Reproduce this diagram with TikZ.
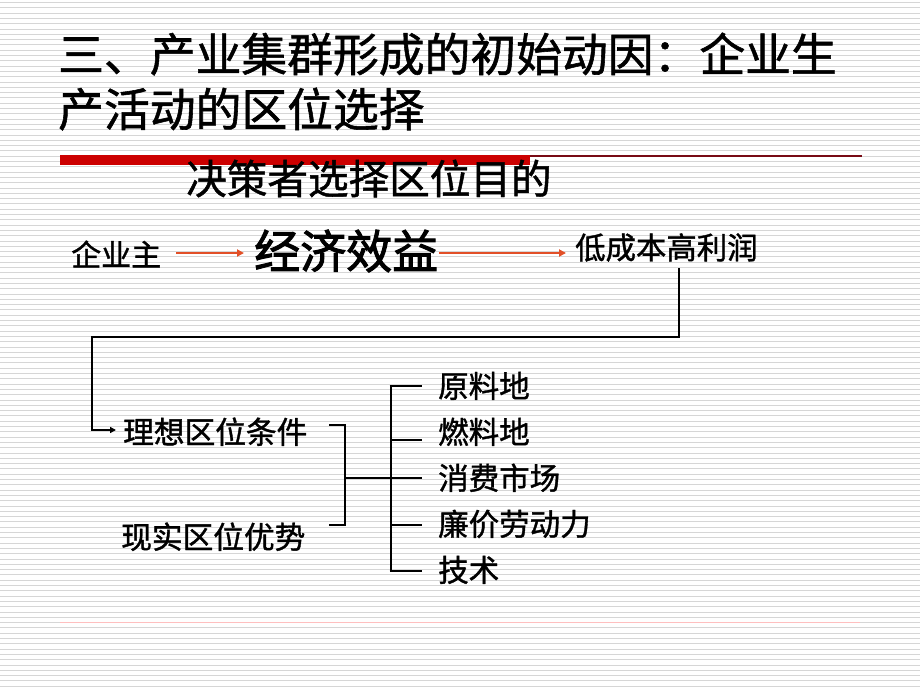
\documentclass[tikz,border=0pt]{standalone}
\usepackage{fontspec}
\newfontfamily\cjk[FakeBold=1.2]{Noto Sans CJK SC}
\newfontfamily\cjkb[FakeBold=2.2]{Noto Sans CJK SC}
\usetikzlibrary{arrows.meta}
\definecolor{stripe}{RGB}{214,214,214}
\definecolor{arrred}{RGB}{226,80,40}
\definecolor{barred}{RGB}{204,0,0}
\definecolor{thinred}{RGB}{120,10,20}
\tikzset{
  txt/.style={anchor=base west, inner sep=0pt, font=\cjk},
  conn/.style={line width=2.8pt, black},
  redarrow/.style={line width=2pt, arrred, -{Triangle[length=7pt,width=7pt]}},
}
\begin{document}
\begin{tikzpicture}[x=1pt,y=-1pt]
\useasboundingbox (0,0) rectangle (920,690);
\fill[white] (0,0) rectangle (920,690);
% background stripes
\foreach \i in {0,...,130} {
  \draw[stripe, line width=0.9pt] (0,{2.5+\i*5.3}) -- (920,{2.5+\i*5.3});
}
% title
\node[txt, font=\cjk\fontsize{45.8}{50}\selectfont] (t1) at (58,71.5) {三、产业集群形成的初始动因：企业生};
\node[txt, font=\cjk\fontsize{45.8}{50}\selectfont] (t2) at (58,126.5) {产活动的区位选择};
% rule
\coordinate (r0) at (60,156);
\coordinate (r1) at (862,156);
\coordinate (b0) at (60,160);
\coordinate (b1) at (530,160);
\draw[thinred, line width=1.5pt] (r0) -- (r1);
\draw[barred, line width=10pt] (b0) -- (b1);
\node[txt, font=\cjk\fontsize{40.6}{44}\selectfont] (goal) at (186,194) {决策者选择区位目的};
% top row
\node[txt, font=\cjk\fontsize{30}{34}\selectfont] (boss) at (71,266) {企业主};
\node[txt, font=\cjkb\fontsize{46}{50}\selectfont] (econ) at (254,268.5) {经济效益};
\node[txt, font=\cjk\fontsize{30.4}{34}\selectfont] (profit) at (575,259) {低成本高利润};
\coordinate (a1s) at (176,253);
\coordinate (a1e) at (244,253);
\coordinate (a2s) at (439,253);
\coordinate (a2e) at (566,253);
\draw[redarrow] (a1s) -- (a1e);
\draw[redarrow] (a2s) -- (a2e);
% elbow connector
\coordinate (p0) at (679,268);
\coordinate (p1) at (679,337);
\coordinate (p2) at (92,337);
\coordinate (p3) at (92,430);
\coordinate (p4) at (116,430);
\draw[conn, -{Triangle[length=6pt,width=6pt]}] (p0) -- (p1) -- (p2) -- (p3) -- (p4);
% left labels
\node[txt, font=\cjk\fontsize{30.7}{34}\selectfont] (ideal) at (123,443.5) {理想区位条件};
\node[txt, font=\cjk\fontsize{30.7}{34}\selectfont] (real) at (121,548.5) {现实区位优势};
% bracket
\coordinate (k0) at (329,425);
\coordinate (k1) at (345,425);
\coordinate (k2) at (345,525);
\coordinate (k3) at (329,525);
\coordinate (km) at (345,478);
\coordinate (sm) at (391,478);
\draw[conn] (k0) -- (k1) -- (k2) -- (k3);
\draw[conn] (km) -- (sm);
% spine
\coordinate (s0) at (391,386);
\coordinate (s4) at (391,571);
\draw[conn] (s0) -- (s4);
\foreach \y/\n in {386/fa,440/fb,478/fc,525/fd,571/fe} {
  \coordinate (\n) at (422,\y);
}
\draw[conn] (389.6,386) -- (fa);
\draw[conn] (391,440) -- (fb);
\draw[conn] (391,478) -- (fc);
\draw[conn] (391,525) -- (fd);
\draw[conn] (389.6,571) -- (fe);
% items
\node[txt, font=\cjk\fontsize{30.5}{34}\selectfont] (ia) at (438,397.5) {原料地};
\node[txt, font=\cjk\fontsize{30.5}{34}\selectfont] (ib) at (438,443.5) {燃料地};
\node[txt, font=\cjk\fontsize{30.5}{34}\selectfont] (ic) at (438,489.5) {消费市场};
\node[txt, font=\cjk\fontsize{30.5}{34}\selectfont] (id) at (438,535.5) {廉价劳动力};
\node[txt, font=\cjk\fontsize{30.5}{34}\selectfont] (ie) at (438,581.5) {技术};
% faint bottom rule
\coordinate (f0) at (60,622);
\coordinate (f1) at (860,622);
\draw[red!25, line width=1pt] (f0) -- (f1);
\end{tikzpicture}
\end{document}
